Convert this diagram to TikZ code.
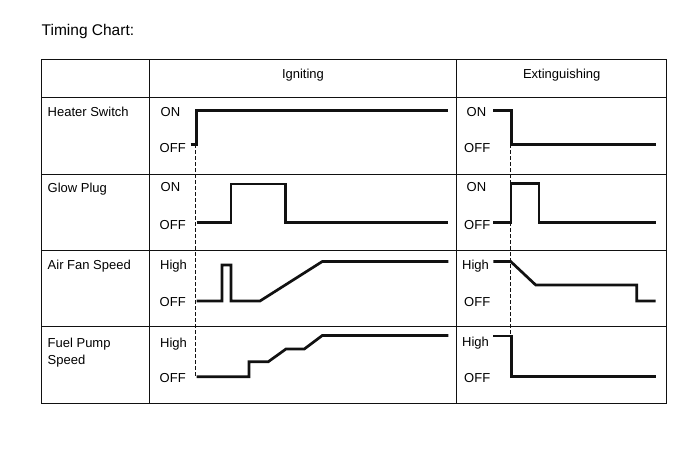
\documentclass[tikz,border=0pt]{standalone}
\usepackage{fontspec}
\setmainfont{Liberation Sans}
\usepackage{xcolor}
\usepackage{tikz}
\usetikzlibrary{positioning}
\definecolor{ink}{HTML}{111111}

\begin{document}
\begin{tikzpicture}[x=1pt,y=-1pt,
  lbl/.style={anchor=base west,inner sep=0pt,font=\fontsize{13}{17}\selectfont},
  sig/.style={line width=2.7pt,line join=miter,ink},
  rule/.style={line width=0.9pt,ink},
  trig/.style={line width=1.2pt,ink,dash pattern=on 3.5pt off 2.5pt}]
\useasboundingbox (0,0) rectangle (691,465);
\node[lbl,font=\fontsize{15.5}{18}\selectfont] (title) at (41.5,35.5) {Timing Chart:};
\draw[rule] (41.5,59.5) rectangle (666.5,403.3);
\draw[rule] (149.5,59.5)--(149.5,403.3) (456.7,59.5)--(456.7,403.3);
\draw[rule] (41.5,97.7)--(666.5,97.7) (41.5,174.3)--(666.5,174.3) (41.5,250.7)--(666.5,250.7) (41.5,326.7)--(666.5,326.7);
\node[lbl,anchor=base] (ign) at (303,78.7) {Igniting};
\node[lbl,anchor=base] (ext) at (561.7,78.7) {Extinguishing};
\node[lbl] (heater) at (47.5,116.3) {Heater Switch};
\node[lbl] (glow) at (47.5,192.7) {Glow Plug};
\node[lbl] (fan) at (47.5,269.7) {Air Fan Speed};
\node[lbl,align=left] (pump) at (47.5,364.7) {Fuel Pump\\Speed};
\node[lbl] (hsOnA) at (160.5,116.3) {ON};
\node[lbl] (hsOffA) at (159.5,153) {OFF};
\node[lbl] (gpOnA) at (160.5,191.4) {ON};
\node[lbl] (gpOffA) at (159.5,229.7) {OFF};
\node[lbl] (afHiA) at (160,269.5) {High};
\node[lbl] (afOffA) at (159.5,306.4) {OFF};
\node[lbl] (fpHiA) at (160,347) {High};
\node[lbl] (fpOffA) at (159.5,382) {OFF};
\node[lbl] (hsOnB) at (466.5,116.3) {ON};
\node[lbl] (hsOffB) at (464,153) {OFF};
\node[lbl] (gpOnB) at (466.5,191.4) {ON};
\node[lbl] (gpOffB) at (464,229.7) {OFF};
\node[lbl] (afHiB) at (462,269.5) {High};
\node[lbl] (afOffB) at (464,306.4) {OFF};
\node[lbl] (fpHiB) at (462,346.5) {High};
\node[lbl] (fpOffB) at (464,382) {OFF};
\draw[trig] (195.7,144.3)--(195.7,376.7);
\draw[trig] (510.7,144.3)--(510.7,336);
\draw[sig] (190.7,144.3)--(196.7,144.3)--(196.7,110.7)--(448.3,110.7);
\draw[sig] (493.3,110.7)--(511.2,110.7)--(511.2,144.3)--(655.7,144.3);
\draw[sig] (196.7,222.3)--(231,222.3)--(231,184)--(285.3,184)--(285.3,222.3)--(448.3,222.3);
\draw[sig] (493.3,222.3)--(511,222.3)--(511,183.5)--(539,183.5)--(539,222.3)--(655.7,222.3);
\draw[sig] (196.7,301)--(222,301)--(222,265)--(231,265)--(231,301)--(260,301)--(322.3,261.5)--(448.3,261.5);
\draw[sig] (493.3,261.5)--(510.7,261.5)--(535.7,285)--(636.7,285)--(636.7,301)--(655.7,301);
\draw[sig] (196.7,376.7)--(249,376.7)--(249,361.7)--(268.3,361.7)--(286,349)--(304.3,349)--(322.3,335.5)--(448.3,335.5);
\draw[sig] (493.3,336)--(511.2,336)--(511.2,376.7)--(655.7,376.7);
\end{tikzpicture}
\end{document}
